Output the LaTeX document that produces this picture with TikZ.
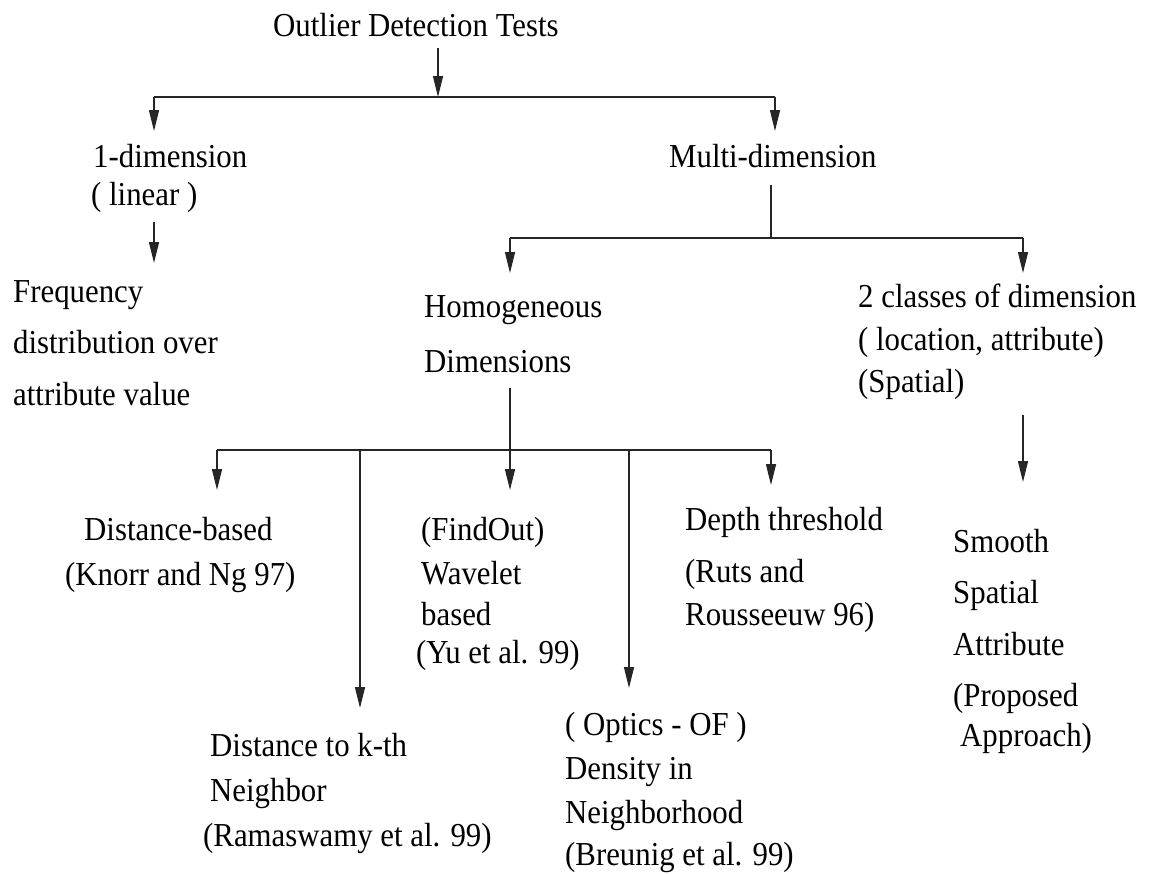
\documentclass[tikz,border=0pt]{standalone}
\usepackage{fontspec}
\setmainfont{Liberation Serif}[FakeStretch=0.92]
\usetikzlibrary{arrows.meta}
\begin{document}
\begin{tikzpicture}[x=1pt,y=-1pt,
  lbl/.style={anchor=base west, inner sep=0pt, font=\fontsize{33.5}{38}\selectfont},
  wire/.style={line width=1.3pt, draw=black!85},
  arr/.style={wire, -{Triangle[length=21pt,width=10pt]}}]
\useasboundingbox (0,0) rectangle (1151,873);

% labels, one node per printed line
\node[lbl] (title) at (273,36) {Outlier Detection Tests};
\node[lbl] (one) at (93,167) {1-dimension};
\node[lbl] (lin) at (91,205) {( linear )};
\node[lbl] (multi) at (669,167) {Multi-dimension};
\node[lbl] (fr1) at (13,302) {Frequency};
\node[lbl] (fr2) at (13,353) {distribution over};
\node[lbl] (fr3) at (13,405) {attribute value};
\node[lbl] (hom1) at (424,317) {Homogeneous};
\node[lbl] (hom2) at (424,372) {Dimensions};
\node[lbl] (cls1) at (858,307) {2 classes of dimension};
\node[lbl] (cls2) at (858,350) {( location, attribute)};
\node[lbl] (cls3) at (858,392) {(Spatial)};
\node[lbl] (db1) at (84,540) {Distance-based};
\node[lbl] (db2) at (65,585) {(Knorr and Ng 97)};
\node[lbl] (fo1) at (421,540) {(FindOut)};
\node[lbl] (fo2) at (421,584) {Wavelet};
\node[lbl] (fo3) at (421,625) {based};
\node[lbl] (fo4) at (416,663) {(Yu et al. 99)};
\node[lbl] (dt1) at (685,530) {Depth threshold};
\node[lbl] (dt2) at (685,582) {(Ruts and};
\node[lbl] (dt3) at (685,625) {Rousseeuw 96)};
\node[lbl] (sm1) at (953,552) {Smooth};
\node[lbl] (sm2) at (953,603) {Spatial};
\node[lbl] (sm3) at (953,655) {Attribute};
\node[lbl] (sm4) at (953,706) {(Proposed};
\node[lbl] (sm5) at (960,746) {Approach)};
\node[lbl] (kn1) at (210,756) {Distance to k-th};
\node[lbl] (kn2) at (210,801) {Neighbor};
\node[lbl] (kn3) at (203,846) {(Ramaswamy et al. 99)};
\node[lbl] (op1) at (565,735) {( Optics - OF )};
\node[lbl] (op2) at (565,779) {Density in};
\node[lbl] (op3) at (565,823) {Neighborhood};
\node[lbl] (op4) at (565,865) {(Breunig et al. 99)};

% junction points of the tree
\coordinate (ta) at (438,48);
\coordinate (tbm) at (438,97);
\coordinate (tbl) at (154,97);
\coordinate (tbr) at (775,97);
\coordinate (oneIn) at (154,131);
\coordinate (multiIn) at (775,131);
\coordinate (linOut) at (154,222);
\coordinate (frIn) at (154,263);
\coordinate (multiOut) at (771,185);
\coordinate (mbr) at (771,238);
\coordinate (mbl) at (510,238);
\coordinate (mbe) at (1023,238);
\coordinate (homIn) at (510,273);
\coordinate (clsIn) at (1023,273);
\coordinate (homOut) at (510,388);
\coordinate (hb) at (510,450);
\coordinate (hbl) at (217,450);
\coordinate (hbk) at (360,450);
\coordinate (hbo) at (629,450);
\coordinate (hbr) at (771,450);
\coordinate (dbIn) at (217,490);
\coordinate (knIn) at (360,708);
\coordinate (foIn) at (510,490);
\coordinate (opIn) at (629,688);
\coordinate (dtIn) at (771,485);
\coordinate (clsOut) at (1023,415);
\coordinate (smIn) at (1023,482);

% connectors
\draw[arr] (ta) -- (tbm);
\draw[wire] (tbl) -- (tbr);
\draw[arr] (tbl) -- (oneIn);
\draw[arr] (tbr) -- (multiIn);
\draw[arr] (linOut) -- (frIn);
\draw[wire] (multiOut) -- (mbr);
\draw[wire] (mbl) -- (mbe);
\draw[arr] (mbl) -- (homIn);
\draw[arr] (mbe) -- (clsIn);
\draw[wire] (homOut) -- (hb);
\draw[wire] (hbl) -- (hbr);
\draw[arr] (hbl) -- (dbIn);
\draw[arr] (hbk) -- (knIn);
\draw[arr] (hb) -- (foIn);
\draw[arr] (hbo) -- (opIn);
\draw[arr] (hbr) -- (dtIn);
\draw[arr] (clsOut) -- (smIn);
\end{tikzpicture}
\end{document}
